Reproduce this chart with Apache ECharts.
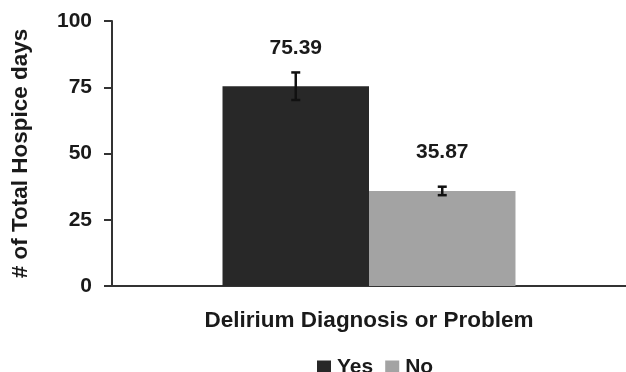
<!DOCTYPE html>
<html>
<head>
<meta charset="utf-8">
<script src="https://cdn.jsdelivr.net/npm/echarts@6/dist/echarts.min.js"></script>
<style>
  html, body { margin: 0; padding: 0; background: #fff; }
  #chart { width: 626px; height: 372px; }
</style>
</head>
<body>
<div id="chart"></div>
<script>
// data
const categories = ['Delirium Diagnosis or Problem'];
const yesValues = [75.39];
const noValues = [35.87];
const yesErr = [5.2];   // +/- error bar
const noErr = [1.6];
const seriesNames = ['Yes', 'No'];

const FONT = '"Liberation Sans", Arial, sans-serif';
const GAP = 0.43;

// error bars: [category index, low, high, which bar]
let errData = [];
categories.forEach(function (c, i) {
  errData.push([i, yesValues[i] - yesErr[i], yesValues[i] + yesErr[i], 0]);
  errData.push([i, noValues[i] - noErr[i], noValues[i] + noErr[i], 1]);
});

const chart = echarts.init(document.getElementById('chart'));

const option = {
  backgroundColor: '#ffffff',
  textStyle: { fontFamily: FONT },
  grid: { left: 112, right: 0, top: 21, bottom: 86 },
  legend: {
    data: seriesNames,
    left: 312,
    top: 352,
    icon: 'rect',
    itemWidth: 14,
    itemHeight: 14,
    itemGap: 12,
    textStyle: { fontSize: 21, fontWeight: 'bold', color: '#1a1a1a', fontFamily: FONT, padding: [0, 0, 0, 1] }
  },
  xAxis: {
    type: 'category',
    data: categories,
    axisTick: { show: false },
    axisLine: { lineStyle: { color: '#333', width: 2 } },
    axisLabel: { fontSize: 22.5, fontWeight: 'bold', color: '#1a1a1a', margin: 23, fontFamily: FONT }
  },
  yAxis: {
    type: 'value',
    min: 0,
    max: 100,
    interval: 25,
    name: '# of Total Hospice days',
    nameLocation: 'middle',
    nameGap: 80,
    nameTextStyle: { fontSize: 22.5, fontWeight: 'bold', color: '#1a1a1a', fontFamily: FONT },
    axisLine: { show: true, lineStyle: { color: '#333', width: 2 } },
    axisTick: { show: true, length: 8, lineStyle: { color: '#333', width: 2 } },
    axisLabel: { fontSize: 21, fontWeight: 'bold', color: '#1a1a1a', margin: 20, fontFamily: FONT },
    splitLine: { show: false }
  },
  series: [
    {
      name: 'Yes',
      type: 'bar',
      data: yesValues,
      barGap: 0,
      barCategoryGap: (GAP * 100) + '%',
      itemStyle: { color: '#282828' },
      label: { show: true, position: 'top', distance: 28, fontSize: 21, fontWeight: 'bold', color: '#1a1a1a', fontFamily: FONT }
    },
    {
      name: 'No',
      type: 'bar',
      data: noValues,
      barGap: 0,
      barCategoryGap: (GAP * 100) + '%',
      itemStyle: { color: '#a3a3a3' },
      label: { show: true, position: 'top', distance: 28, fontSize: 21, fontWeight: 'bold', color: '#1a1a1a', fontFamily: FONT }
    },
    {
      name: 'err',
      type: 'custom',
      data: errData,
      z: 10,
      renderItem: function (params, api) {
        const x = api.value(0);
        const hi = api.coord([x, api.value(2)]);
        const lo = api.coord([x, api.value(1)]);
        const band = api.size([1, 0])[0];
        const bw = band * (1 - GAP) / 2;
        const cx = hi[0] + (api.value(3) === 0 ? -bw / 2 : bw / 2);
        const cap = 4.5;
        const st = { stroke: '#111', lineWidth: 2.5 };
        return {
          type: 'group',
          children: [
            { type: 'line', shape: { x1: cx, y1: hi[1], x2: cx, y2: lo[1] }, style: st },
            { type: 'line', shape: { x1: cx - cap, y1: hi[1], x2: cx + cap, y2: hi[1] }, style: st },
            { type: 'line', shape: { x1: cx - cap, y1: lo[1], x2: cx + cap, y2: lo[1] }, style: st }
          ]
        };
      }
    }
  ]
};

chart.setOption(option);
</script>
</body>
</html>
